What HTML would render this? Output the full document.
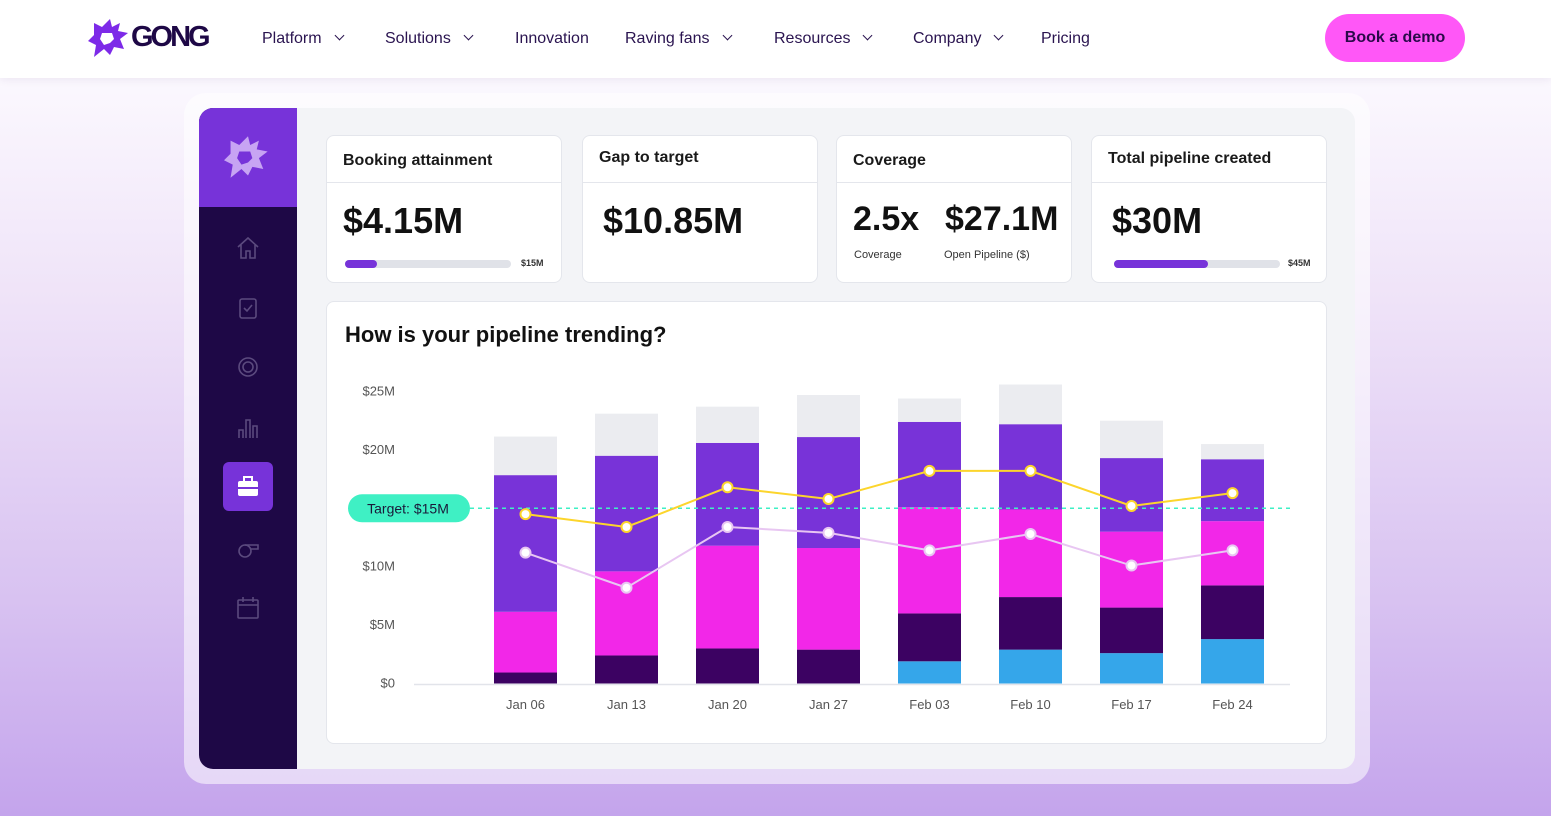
<!DOCTYPE html>
<html><head><meta charset="utf-8">
<style>
*{box-sizing:border-box;margin:0;padding:0}
body{width:1551px;height:816px;overflow:hidden;font-family:"Liberation Sans",sans-serif;position:relative;background:linear-gradient(180deg,#fbf8fe 80px,#efe3f8 300px,#d8c2f1 600px,#c4a4ec 816px);color:#1c0b3c}
.abs{position:absolute}
#hdr{left:0;top:0;width:1551px;height:78px;background:#fff;box-shadow:0 2px 8px rgba(60,20,120,.08)}
.nav{top:30px;font-size:16px;color:#2a1450}
.chev{display:inline-block;width:7px;height:7px;border-right:1.6px solid #2a1450;border-bottom:1.6px solid #2a1450;transform:rotate(45deg);margin-left:14px;position:relative;top:-4px}
#demo{left:1325px;top:14px;width:140px;height:48px;border-radius:24px;background:#ff57f7;color:#2a0a4a;font-weight:bold;font-size:16px;text-align:center;line-height:48px}
#frame{left:184px;top:93px;width:1186px;height:691px;border-radius:22px;background:rgba(255,255,255,.55)}
#app{left:199px;top:108px;width:1156px;height:661px;border-radius:14px;background:#f3f4f7;overflow:hidden}
#side{left:0;top:0;width:98px;height:661px;background:#1e0846}
#sidetop{left:0;top:0;width:98px;height:99px;background:#7733d9}
.card{background:#fff;border:1.5px solid #e4e6ec;border-radius:8px}
.ct{font-size:16px;font-weight:bold;color:#1a1a1a;position:absolute;left:16px;top:16px}
.sep{position:absolute;left:0;right:0;top:46px;border-top:1.5px solid #e4e6ec}
.big{position:absolute;left:16px;top:64px;font-size:36px;font-weight:bold;color:#111}
.track{position:absolute;left:18px;top:124px;width:166px;height:8px;border-radius:4px;background:#e0e2e8}
.fill{height:8px;border-radius:4px;background:#7733d9}
.tl{position:absolute;left:194px;top:122px;font-size:9px;color:#333;font-weight:bold}
.ic{position:absolute;left:36px;width:26px;height:26px}
</style></head><body>
<div id="hdr" class="abs">
<svg class="abs" style="left:88px;top:17px" width="44" height="42" viewBox="0 0 44 42"><path d="M6 6 L14 10 L22 2 L24 10 L32 6 L30 14 L40 16 L32 22 L36 32 L26 30 L22 38 L16 32 L6 40 L8 28 L0 24 L6 18 Z M14 16 L12 22 L16 28 L22 26 L26 22 L24 16 Z" fill="#7d2ae8" fill-rule="evenodd"/></svg>
<div class="abs" style="left:131px;top:21px;font-size:29px;font-weight:bold;color:#1e0846;letter-spacing:-3px">GONG</div>
<div class="abs nav" style="left:262px">Platform<span class="chev"></span></div>
<div class="abs nav" style="left:385px">Solutions<span class="chev"></span></div>
<div class="abs nav" style="left:515px">Innovation</div>
<div class="abs nav" style="left:625px">Raving fans<span class="chev"></span></div>
<div class="abs nav" style="left:774px">Resources<span class="chev"></span></div>
<div class="abs nav" style="left:913px">Company<span class="chev"></span></div>
<div class="abs nav" style="left:1041px">Pricing</div>
<div id="demo" class="abs">Book a demo</div>
</div>
<div id="frame" class="abs"></div>
<div id="app" class="abs">
<div id="side" class="abs">
<div id="sidetop" class="abs">
<svg class="abs" style="left:25px;top:25px" width="48" height="48" viewBox="0 0 44 42"><path d="M6 6 L14 10 L22 2 L24 10 L32 6 L30 14 L40 16 L32 22 L36 32 L26 30 L22 38 L16 32 L6 40 L8 28 L0 24 L6 18 Z M14 16 L12 22 L16 28 L22 26 L26 22 L24 16 Z" fill="#c7a4f3" fill-rule="evenodd"/></svg></div>
<svg class="ic" style="top:127px" viewBox="0 0 26 26"><path d="M3 12 L13 3 L23 12 M6 10 V23 H11 V16 H15 V23 H20 V10" fill="none" stroke="#5b4a7e" stroke-width="1.6"/></svg>
<svg class="ic" style="top:187px" viewBox="0 0 26 26"><rect x="5" y="4" width="16" height="19" rx="2" fill="none" stroke="#5b4a7e" stroke-width="1.6"/><path d="M9 13 L12 16 L17 10" fill="none" stroke="#5b4a7e" stroke-width="1.6"/></svg>
<svg class="ic" style="top:247px" viewBox="0 0 26 26"><circle cx="13" cy="12" r="9" fill="none" stroke="#5b4a7e" stroke-width="1.6"/><circle cx="13" cy="12" r="5" fill="none" stroke="#5b4a7e" stroke-width="1.6"/></svg>
<svg class="ic" style="top:307px" viewBox="0 0 26 26"><path d="M4 23 V15 H8 V23 M11 23 V5 H15 V23 M18 23 V11 H22 V23" fill="none" stroke="#5b4a7e" stroke-width="1.6"/></svg>
<div class="abs" style="left:24px;top:354px;width:50px;height:49px;border-radius:6px;background:#7733d9"><svg class="abs" style="left:12px;top:12px" width="26" height="26" viewBox="0 0 26 26"><rect x="3" y="7" width="20" height="15" rx="2" fill="#fff"/><rect x="9" y="3" width="8" height="5" fill="none" stroke="#fff" stroke-width="2"/><rect x="3" y="13" width="20" height="2" fill="#7733d9"/></svg></div>
<svg class="ic" style="top:427px" viewBox="0 0 26 26"><circle cx="10" cy="16" r="6" fill="none" stroke="#5b4a7e" stroke-width="1.6"/><path d="M10 10 H23 V14 H15" fill="none" stroke="#5b4a7e" stroke-width="1.6"/></svg>
<svg class="ic" style="top:487px" viewBox="0 0 26 26"><rect x="3" y="5" width="20" height="18" rx="1" fill="none" stroke="#5b4a7e" stroke-width="1.6"/><path d="M3 10 H23 M8 2 V7 M18 2 V7" stroke="#5b4a7e" stroke-width="1.6"/></svg>
</div>
<div class="abs card" style="left:127px;top:27px;width:236px;height:148px"><div class="ct">Booking attainment</div><div class="sep"></div><div class="big">$4.15M</div><div class="track"><div class="fill" style="width:32px"></div></div><div class="tl">$15M</div></div>
<div class="abs card" style="left:383px;top:27px;width:236px;height:148px"><div class="ct" style="top:13px">Gap to target</div><div class="sep"></div><div class="big" style="left:20px">$10.85M</div></div>
<div class="abs card" style="left:637px;top:27px;width:236px;height:148px"><div class="ct">Coverage</div><div class="sep"></div><div class="big" style="font-size:34px">2.5x</div><div class="big" style="left:108px;font-size:34px">$27.1M</div><div class="abs" style="left:17px;top:113px;font-size:11px;color:#333">Coverage</div><div class="abs" style="left:107px;top:113px;font-size:11px;color:#333">Open Pipeline ($)</div></div>
<div class="abs card" style="left:892px;top:27px;width:236px;height:148px"><div class="ct" style="top:14px">Total pipeline created</div><div class="sep"></div><div class="big" style="left:20px">$30M</div><div class="track" style="left:22px;width:166px"><div class="fill" style="width:94px"></div></div><div class="tl" style="left:196px">$45M</div></div>
<div class="abs card" style="left:127px;top:193px;width:1001px;height:443px"><div class="abs" style="left:18px;top:20px;font-size:22px;font-weight:bold;color:#111">How is your pipeline trending?</div></div>
</div>
<svg id="chart" class="abs" style="left:0;top:0" width="1551" height="816"></svg>
<script>
const categories=["Jan 06","Jan 13","Jan 20","Jan 27","Feb 03","Feb 10","Feb 17","Feb 24"];
const blueVals=[0,0,0,0,1.9,2.9,2.6,3.8];
const darkVals=[0.94,2.4,3.0,2.9,4.1,4.5,3.9,4.6];
const magentaVals=[5.2,7.2,8.8,8.7,9.1,7.5,6.5,5.5];
const purpleVals=[11.7,9.9,8.8,9.5,7.3,7.3,6.3,5.3];
const grayVals=[3.3,3.6,3.1,3.6,2.0,3.4,3.2,1.3];
const yellowLine=[14.5,13.4,16.8,15.8,18.2,18.2,15.2,16.3];
const pinkLine=[11.2,8.2,13.4,12.9,11.4,12.8,10.1,11.4];
const yTicks=[0,5,10,20,25];
const yTickLabels=["$0","$5M","$10M","$20M","$25M"];
const targetValue=15;
const NS="http://www.w3.org/2000/svg";
const svg=document.getElementById('chart');
function y(v){return 683.5-v*11.68;}
function x(i){return 525.5+i*101;}
const BW=63;
function mk(t,a){const e=document.createElementNS(NS,t);for(const k in a)e.setAttribute(k,a[k]);svg.appendChild(e);return e;}
yTicks.forEach((v,i)=>{const t=mk('text',{x:395,y:y(v)+4,'text-anchor':'end','font-size':13,fill:'#555','font-family':'Liberation Sans'});t.textContent=yTickLabels[i];

});
const ax=mk('line',{x1:414,x2:1290,y1:684.5,y2:684.5,stroke:'#e2e4ea','stroke-width':1.5});


const series=[[blueVals,'#35a6ea','blue'],[darkVals,'#3c0262','dark'],[magentaVals,'#f227e8','magenta'],[purpleVals,'#7833d8','purple'],[grayVals,'#ebecf0','gray']];
categories.forEach((c,i)=>{let base=0;series.forEach(([arr,col,nm],si)=>{const v=arr[i];if(v>0){const r=mk('rect',{x:x(i)-BW/2,y:y(base+v),width:BW,height:v*11.68,fill:col});

}base+=v;});
const t=mk('text',{x:x(i),y:709,'text-anchor':'middle','font-size':13,fill:'#555','font-family':'Liberation Sans'});t.textContent=c;

});
const tl=mk('line',{x1:470,x2:1290,y1:y(targetValue),y2:y(targetValue),stroke:'#3ff0c4','stroke-width':1.5,'stroke-dasharray':'4 4'});


const pill=mk('rect',{x:348,y:y(targetValue)-14,width:122,height:28,rx:14,fill:'#3ff0c4'});


const pt=mk('text',{x:408,y:y(targetValue)+5,'text-anchor':'middle','font-size':14,fill:'#1a1a3a','font-family':'Liberation Sans'});pt.textContent='Target: $'+targetValue+'M';


[[pinkLine,'#e8c6f2','pink'],[yellowLine,'#fcd52c','yellow']].forEach(([arr,col,nm])=>{
const p=mk('polyline',{points:arr.map((v,i)=>x(i)+','+y(v)).join(' '),fill:'none',stroke:col,'stroke-width':2});


arr.forEach((v,i)=>{const c=mk('circle',{cx:x(i),cy:y(v),r:5,fill:'#fff',stroke:col,'stroke-width':2});

});});
</script>
</body></html>
